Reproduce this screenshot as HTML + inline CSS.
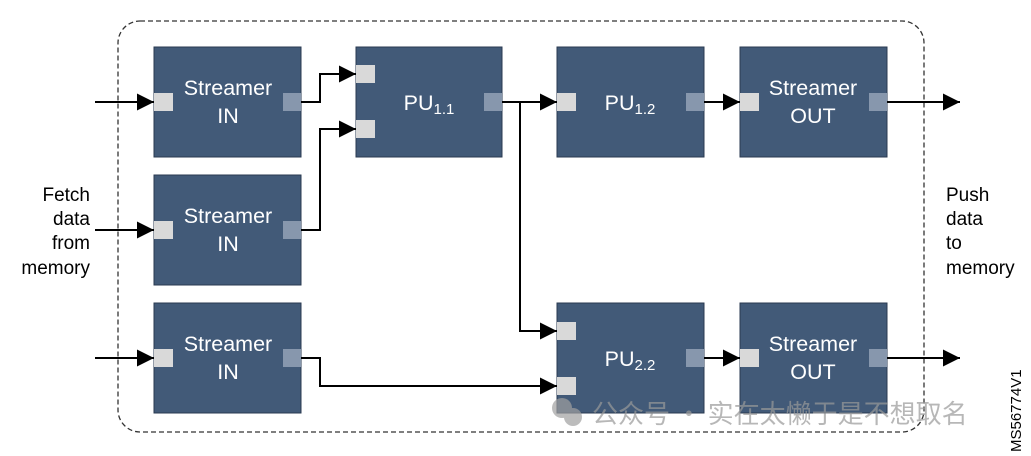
<!DOCTYPE html>
<html><head><meta charset="utf-8"><style>
html,body{margin:0;padding:0;background:#fff;}
svg{display:block;font-family:"Liberation Sans",Arial,sans-serif;}
</style></head><body>
<svg width="1031" height="456" viewBox="0 0 1031 456" xmlns="http://www.w3.org/2000/svg">
<defs>
<marker id="a" viewBox="0 0 10 10" refX="10" refY="5" markerWidth="19" markerHeight="17" markerUnits="userSpaceOnUse" orient="auto">
<path d="M0,0 L10,5 L0,10 z" fill="#000"/></marker>
</defs>
<rect x="118" y="21" width="806" height="411" rx="22" fill="none" stroke="#333" stroke-width="1.3" stroke-dasharray="5,3"/>
<g fill="#425a78" stroke="#2a3a50" stroke-width="1">
<rect x="154" y="47" width="147" height="110"/>
<rect x="154" y="175" width="147" height="110"/>
<rect x="154" y="303" width="147" height="110"/>
<rect x="356" y="47" width="146" height="110"/>
<rect x="557" y="47" width="147" height="110"/>
<rect x="740" y="47" width="147" height="110"/>
<rect x="557" y="303" width="147" height="110"/>
<rect x="740" y="303" width="147" height="110"/>
</g>
<g fill="#d9d9d9">
<rect x="154" y="93" width="19" height="18"/>
<rect x="154" y="221" width="19" height="18"/>
<rect x="154" y="349" width="19" height="18"/>
<rect x="356" y="65" width="19" height="18"/>
<rect x="356" y="120" width="19" height="18"/>
<rect x="557" y="93" width="19" height="18"/>
<rect x="740" y="93" width="19" height="18"/>
<rect x="557" y="322" width="19" height="18"/>
<rect x="557" y="377" width="19" height="18"/>
<rect x="740" y="349" width="19" height="18"/>
</g>
<g fill="#8797ad">
<rect x="283" y="93" width="18" height="18"/>
<rect x="283" y="221" width="18" height="18"/>
<rect x="283" y="349" width="18" height="18"/>
<rect x="484" y="93" width="18" height="18"/>
<rect x="686" y="93" width="18" height="18"/>
<rect x="869" y="93" width="18" height="18"/>
<rect x="686" y="349" width="18" height="18"/>
<rect x="869" y="349" width="18" height="18"/>
</g>
<g stroke="#000" stroke-width="2" fill="none" marker-end="url(#a)">
<path d="M95,102 H154"/>
<path d="M95,230 H154"/>
<path d="M95,358 H154"/>
<path d="M301,102 H320 V74 H356"/>
<path d="M301,230 H320 V129 H356"/>
<path d="M502,102 H557"/>
<path d="M520,102 V331 H557"/>
<path d="M301,358 H320 V386 H557"/>
<path d="M704,102 H740"/>
<path d="M704,358 H740"/>
<path d="M887,102 H960"/>
<path d="M887,358 H960"/>
</g>
<g fill="#fff" font-size="21.5" text-anchor="middle">
<text x="228" y="95">Streamer</text><text x="228" y="123">IN</text>
<text x="228" y="223">Streamer</text><text x="228" y="251">IN</text>
<text x="228" y="351">Streamer</text><text x="228" y="379">IN</text>
<text x="813" y="95">Streamer</text><text x="813" y="123">OUT</text>
<text x="813" y="351">Streamer</text><text x="813" y="379">OUT</text>
<text x="429" y="110">PU<tspan font-size="15" dy="4">1.1</tspan></text>
<text x="630" y="110">PU<tspan font-size="15" dy="4">1.2</tspan></text>
<text x="630" y="366">PU<tspan font-size="15" dy="4">2.2</tspan></text>
</g>
<g fill="#000" font-size="19">
<text x="90" y="201" text-anchor="end">Fetch</text>
<text x="90" y="225" text-anchor="end">data</text>
<text x="90" y="249" text-anchor="end">from</text>
<text x="90" y="274" text-anchor="end">memory</text>
<text x="946" y="201">Push</text>
<text x="946" y="225">data</text>
<text x="946" y="249">to</text>
<text x="946" y="274">memory</text>
</g>
<text transform="translate(1021,452) rotate(-90)" font-size="15" fill="#000">MS56774V1</text>
<g opacity="0.7">
<circle cx="562" cy="408" r="10" fill="#a0a0a0"/><circle cx="573" cy="417" r="9" fill="#a0a0a0"/>
<text x="592" y="423" font-size="26" fill="#9a9a9a" font-family="'Noto Sans CJK SC',sans-serif">公众号 · 实在太懒于是不想取名</text>
</g>
</svg>
</body></html>
